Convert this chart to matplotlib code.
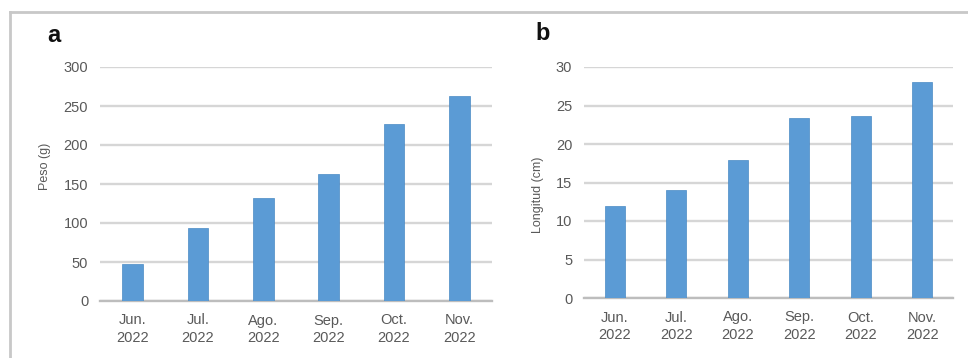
import matplotlib

matplotlib.use("Agg")
import matplotlib.pyplot as plt
from matplotlib.lines import Line2D

months = ["Jun.\n2022", "Jul.\n2022", "Ago.\n2022", "Sep.\n2022", "Oct.\n2022", "Nov.\n2022"]
peso = [48, 93, 132, 163, 227, 263]
longitud = [11.9, 14.0, 17.9, 23.4, 23.6, 28.0]

BAR = "#5b9bd5"
GRID = "#d6d6d6"
AXIS = "#bdbdbd"
TXT = "#595959"

plt.rcParams["font.family"] = ["Liberation Sans", "DejaVu Sans"]

W, H = 968, 358
fig = plt.figure(figsize=(W / 100, H / 100), dpi=100)


def px_axes(x0, x1, y0, y1):
    # pixel box (left, right, top, bottom) -> figure axes
    return fig.add_axes([x0 / W, 1 - y1 / H, (x1 - x0) / W, (y1 - y0) / H])


def panel(ax, vals, ymax, step, ylabel, lab_xy, letter, letter_xy):
    x = range(len(vals))
    ax.bar(x, vals, width=0.32, color=BAR, edgecolor="#4a8ac4", linewidth=0.5, zorder=3)
    ax.set_xlim(-0.5, len(vals) - 0.5)
    ax.set_ylim(0, ymax)
    ax.set_yticks(range(0, ymax + 1, step))
    ax.set_xticks(list(x))
    ax.set_xticklabels(months, fontsize=10.5, color=TXT, linespacing=1.3)
    ax.tick_params(axis="y", labelsize=10.5, labelcolor=TXT, length=0, pad=8.5)
    ax.tick_params(axis="x", length=0, pad=9)
    ax.grid(axis="y", color=GRID, lw=1.7, zorder=0)
    for s in ("top", "right", "left"):
        ax.spines[s].set_visible(False)
    ax.spines["bottom"].set_color(AXIS)
    ax.spines["bottom"].set_linewidth(1.7)
    fig.text(lab_xy[0] / W, 1 - lab_xy[1] / H, ylabel, rotation=90, fontsize=9,
             color=TXT, ha="center", va="center")
    fig.text(letter_xy[0] / W, 1 - letter_xy[1] / H, letter, fontsize=17,
             fontweight="bold", color="#111111", ha="center", va="center")


ax1 = px_axes(100, 492, 67, 301)
panel(ax1, peso, 300, 50, "Peso (g)", (45, 166), "a", (54, 35))

ax2 = px_axes(584, 953, 67, 298)
panel(ax2, longitud, 30, 5, "Longitud (cm)", (538, 195), "b", (543, 33))

# outer frame: top and left edges
fig.add_artist(Line2D([9.5 / W, 1], [1 - 12 / H, 1 - 12 / H], color="#c8c8c8", lw=2,
                      transform=fig.transFigure))
fig.add_artist(Line2D([9.5 / W, 9.5 / W], [0, 1 - 12 / H], color="#c8c8c8", lw=2,
                      transform=fig.transFigure))

fig.savefig("out.png", dpi=100)
